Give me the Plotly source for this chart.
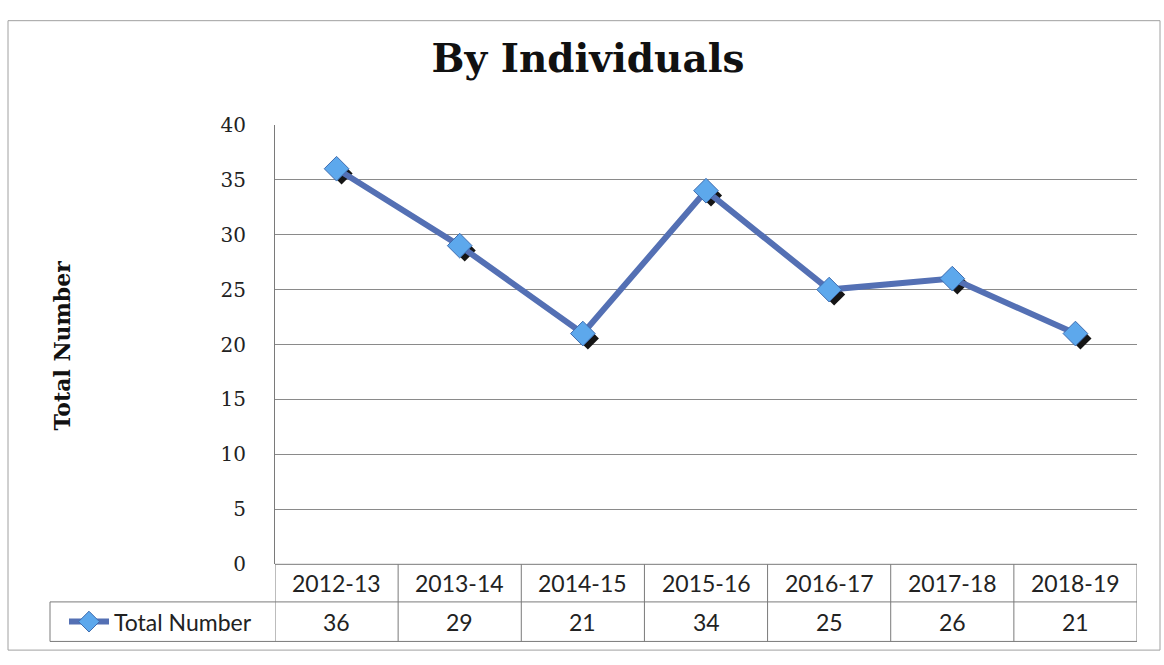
import plotly.graph_objects as go

categories = ["2012-13", "2013-14", "2014-15", "2015-16", "2016-17", "2017-18", "2018-19"]
values = [36, 29, 21, 34, 25, 26, 21]
series_name = "Total Number"
y_ticks = [0, 5, 10, 15, 20, 25, 30, 35, 40]
title_text = "By Individuals"
y_title = "Total Number"

W, H = 1164, 665
def px(x): return x / W
def py(y): return 1 - y / H

PL, PR, PT, PB = 275, 1137, 117, 573
ROW1_B, ROW2_B, LEG_L = 612, 653, 50

xs = list(range(len(categories)))
SERIF = "DejaVu Serif"
SANS = "Lato"
TXT = 23

fig = go.Figure()
# shadow markers (on an axis pair shifted a few pixels down-right)
fig.add_trace(go.Scatter(x=xs, y=values, mode="markers", xaxis="x2", yaxis="y2",
                         marker=dict(symbol="diamond", size=17, color="#151515"),
                         showlegend=False, hoverinfo="skip"))
fig.add_trace(go.Scatter(x=xs, y=values, mode="lines+markers", name=series_name, xaxis="x3", yaxis="y3",
                         line=dict(color="#5470B4", width=6),
                         marker=dict(symbol="diamond", size=19, color="#5DA8EC",
                                     line=dict(color="#3F6DB0", width=1))))

xd = [px(PL), px(PR)]
yd = [py(PB), py(PT)]
sh = 5
xd2 = [px(PL + sh), px(PR + sh)]
yd2 = [py(PB + sh), py(PT + sh)]
xr = [-0.5, len(categories) - 0.5]
yr = [0, 40]

LC = "#7A7A7A"
shapes = []
shapes.append(dict(type="rect", xref="paper", yref="paper", x0=px(8), x1=px(1160), y0=py(662), y1=py(9),
                   line=dict(color="#A0A0A0", width=1), layer="below"))
shapes.append(dict(type="line", xref="paper", yref="paper", x0=px(PL), x1=px(PR), y0=py(PB), y1=py(PB),
                   line=dict(color=LC, width=1)))
for yy in (ROW1_B, ROW2_B):
    shapes.append(dict(type="line", xref="paper", yref="paper", x0=px(LEG_L), x1=px(PR), y0=py(yy), y1=py(yy),
                       line=dict(color=LC, width=1)))
shapes.append(dict(type="line", xref="paper", yref="paper", x0=px(LEG_L), x1=px(LEG_L), y0=py(ROW1_B), y1=py(ROW2_B),
                   line=dict(color=LC, width=1)))
for i in range(len(categories) + 1):
    shapes.append(dict(type="line", xref="x", yref="paper", x0=i - 0.5, x1=i - 0.5, y0=py(PB), y1=py(ROW2_B),
                       line=dict(color=LC, width=1)))

annotations = []
for i, (c, v) in enumerate(zip(categories, values)):
    annotations.append(dict(x=i, y=py((PB + ROW1_B) / 2), xref="x", yref="paper", text=c, showarrow=False,
                            font=dict(family=SANS, size=TXT, color="#222222"), xanchor="center", yanchor="middle"))
    annotations.append(dict(x=i, y=py((ROW1_B + ROW2_B) / 2), xref="x", yref="paper", text=str(v), showarrow=False,
                            font=dict(family=SANS, size=TXT, color="#222222"), xanchor="center", yanchor="middle"))
annotations.append(dict(x=px(62), y=py(346), xref="paper", yref="paper", text="<b>" + y_title + "</b>",
                        showarrow=False, textangle=-90, font=dict(family=SERIF, size=22, color="#111111"),
                        xanchor="center", yanchor="middle"))

fig.update_layout(
    width=W, height=H, margin=dict(l=0, r=0, t=0, b=0),
    paper_bgcolor="white", plot_bgcolor="rgba(0,0,0,0)",
    title=dict(text="<b>" + title_text + "</b>", x=px(588), y=py(58), xanchor="center", yanchor="middle",
               font=dict(family=SERIF, size=39, color="#111111")),
    xaxis=dict(domain=xd, range=xr, showticklabels=False, showgrid=False, zeroline=False, ticks="",
               fixedrange=True),
    yaxis=dict(domain=yd, range=yr, tickvals=y_ticks, showgrid=True, gridcolor="#8A8A8A", gridwidth=1,
               zeroline=False, showline=True, linecolor=LC, linewidth=1, ticks="",
               ticklabelstandoff=24,
               tickfont=dict(family=SERIF, size=20, color="#222222")),
    xaxis2=dict(domain=xd2, range=xr, anchor="y2", visible=False),
    yaxis2=dict(domain=yd2, range=yr, anchor="x2", visible=False),
    xaxis3=dict(domain=xd, range=xr, anchor="y3", visible=False),
    yaxis3=dict(domain=yd, range=yr, anchor="x3", visible=False),
    shapes=shapes, annotations=annotations,
    showlegend=True,
    legend=dict(x=px(64), y=py((ROW1_B + ROW2_B) / 2), xanchor="left", yanchor="middle",
                font=dict(family=SANS, size=TXT, color="#222222"), bgcolor="rgba(0,0,0,0)",
                itemwidth=40, tracegroupgap=0),
)
fig.write_html("out.html", config={"displayModeBar": False},
               post_script="document.body.style.margin='0';document.body.style.overflow='hidden';")
